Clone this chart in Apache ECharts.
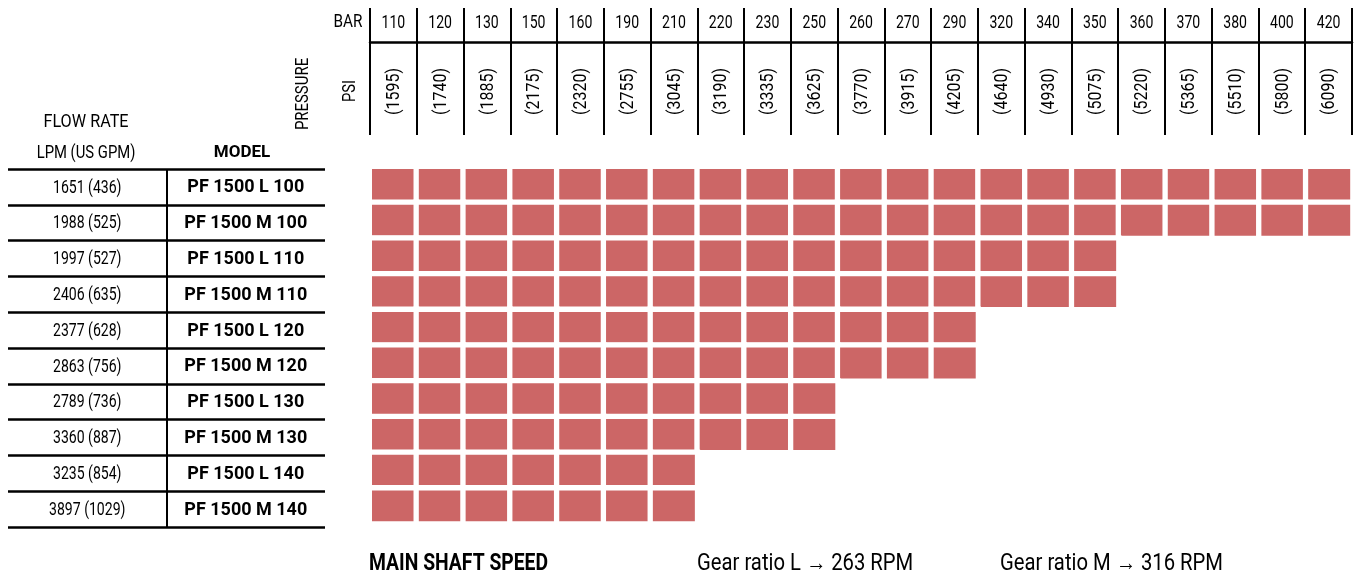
<!DOCTYPE html>
<html>
<head>
<meta charset="utf-8">
<script src="https://cdn.jsdelivr.net/npm/echarts@6/dist/echarts.min.js"></script>
<style>
html, body { margin: 0; padding: 0; background: #fff; }
#chart { width: 1363px; height: 579px; }
</style>
</head>
<body>
<div id="chart"></div>
<script>
// pressure columns
var pressureBar = ['110', '120', '130', '150', '160', '190', '210', '220', '230', '250', '260',
	'270', '290', '320', '340', '350', '360', '370', '380', '400', '420'];
var pressurePsi = ['1595', '1740', '1885', '2175', '2320', '2755', '3045', '3190', '3335', '3625', '3770',
	'3915', '4205', '4640', '4930', '5075', '5220', '5365', '5510', '5800', '6090'];

// model rows
var models = ['PF 1500 L 100', 'PF 1500 M 100', 'PF 1500 L 110', 'PF 1500 M 110', 'PF 1500 L 120',
	'PF 1500 M 120', 'PF 1500 L 130', 'PF 1500 M 130', 'PF 1500 L 140', 'PF 1500 M 140'];
var flowLpm = [1651, 1988, 1997, 2406, 2377, 2863, 2789, 3360, 3235, 3897];
var flowGpm = [436, 525, 527, 635, 628, 756, 736, 887, 854, 1029];
// highest allowed pressure (bar) per model
var maxBar = [420, 420, 350, 350, 290, 290, 250, 250, 210, 210];

// main shaft speed
var gearRatio = ['L', 'M'];
var shaftRpm = [263, 316];

var FONT = "Roboto, 'Noto Sans', sans-serif";
var RED = '#cc6666';
var INK = '#000';

/* cells */
var cells = [];
for (var r = 0; r < models.length; r++) {
	for (var c = 0; c < pressureBar.length; c++) {
		if (+pressureBar[c] <= maxBar[r]) {
			cells.push([pressureBar[c], models[r], 1]);
		}
	}
}

var barPos = [], flowPos = [], modelPos = [];
var barText = [], psiText = [], flowText = [];
for (var i = 0; i < pressureBar.length; i++) {
	barPos.push([pressureBar[i], 0.5]);
	barText.push(pressureBar[i]);
	psiText.push('(' + pressurePsi[i] + ')');
}
for (var j = 0; j < models.length; j++) {
	flowPos.push([0.5, models[j]]);
	modelPos.push([1.5, models[j]]);
	flowText.push(flowLpm[j] + ' (' + flowGpm[j] + ')');
}

/* text drawn at data coords, condensed with scaleX */
function textSeries(pos, texts, xi, yi, st) {
	return {
		type : 'custom',
		xAxisIndex : xi,
		yAxisIndex : yi,
		data : pos,
		silent : true,
		renderItem : function(params, api) {
			var pt = api.coord([ api.value(0), api.value(1) ]);
			return {
				type : 'text',
				x : pt[0] + (st.dx || 0),
				y : pt[1] + (st.dy || 0),
				scaleX : st.scaleX || 1,
				rotation : st.rotation || 0,
				style : {
					text : texts[params.dataIndex],
					font : st.font,
					fill : INK,
					align : 'center',
					verticalAlign : 'middle'
				}
			};
		}
	};
}

function label(text, x, y, font, scaleX, rotation, align) {
	return {
		type : 'text', x : x, y : y, scaleX : scaleX, rotation : rotation || 0,
		style : { text : text, font : font, fill : INK, align : align || 'center', verticalAlign : 'middle' }
	};
}

var blackLine = function(w) {
	return { show : true, lineStyle : { color : INK, width : w, type : 'solid' } };
};

var hidden = { show : false };

var option = {
	animation : false,
	backgroundColor : '#fff',
	grid : [
		// heatmap
		{ left : 369.6, top : 166.7, width : 983, height : 357 },
		// bar header
		{ left : 370, top : 8, width : 982, height : 34 },
		// psi header
		{ left : 370, top : 42, width : 982, height : 93 },
		// table
		{ left : 8, top : 169, width : 317, height : 358 }
	],
	xAxis : [
		{ gridIndex : 0, type : 'category', data : pressureBar, axisLine : hidden, axisTick : hidden, axisLabel : hidden },
		{ gridIndex : 1, type : 'category', data : pressureBar, axisLine : blackLine(2.5), axisTick : hidden,
			axisLabel : hidden, splitLine : blackLine(2) },
		{ gridIndex : 2, type : 'category', data : pressureBar, axisLine : hidden, axisTick : hidden,
			axisLabel : hidden, splitLine : blackLine(2) },
		{ gridIndex : 3, type : 'value', min : 0, max : 2, interval : 1, axisLine : hidden, axisTick : hidden,
			axisLabel : hidden,
			splitLine : { show : true, showMinLine : false, showMaxLine : false, lineStyle : { color : INK, width : 2 } } }
	],
	yAxis : [
		{ gridIndex : 0, type : 'category', data : models, inverse : true, axisLine : hidden, axisTick : hidden, axisLabel : hidden },
		{ gridIndex : 1, type : 'value', min : 0, max : 1, show : false },
		{ gridIndex : 2, type : 'value', min : 0, max : 1, show : false },
		{ gridIndex : 3, type : 'category', data : models, inverse : true, axisLine : hidden, axisTick : hidden,
			axisLabel : hidden, splitLine : blackLine(2.5) }
	],
	visualMap : {
		show : false,
		seriesIndex : 0,
		min : 0,
		max : 1,
		inRange : { color : [ RED, RED ] }
	},
	series : [
		{
			type : 'heatmap',
			xAxisIndex : 0,
			yAxisIndex : 0,
			data : cells,
			silent : true,
			itemStyle : { borderColor : '#fff', borderWidth : 5.3 }
		},
		textSeries(barPos, barText, 1, 1, { font : '19px ' + FONT, scaleX : 0.74, dy : -2 }),
		textSeries(barPos, psiText, 2, 2, { font : '19px ' + FONT, scaleX : 0.84, rotation : Math.PI / 2, dx : 1, dy : 3 }),
		textSeries(flowPos, flowText, 3, 3, { font : '19px ' + FONT, scaleX : 0.74, dy : 1 }),
		textSeries(modelPos, models, 3, 3, { font : 'bold 18px ' + FONT, dy : 1 })
	],
	graphic : [
		label('FLOW RATE', 86, 122, '18px ' + FONT, 0.9),
		label('LPM (US GPM)', 86, 153, '19px ' + FONT, 0.78),
		label('MODEL', 242, 153, 'bold 17px ' + FONT, 1),
		label('PRESSURE', 303, 94, '18px ' + FONT, 0.83, Math.PI / 2),
		label('PSI', 350, 91, '18px ' + FONT, 0.82, Math.PI / 2),
		label('BAR', 348, 22, '18px ' + FONT, 0.85),
		label('MAIN SHAFT SPEED', 369, 564, 'bold 23px ' + FONT, 0.84, 0, 'left'),
		label('Gear ratio ' + gearRatio[0] + ' \u2192 ' + shaftRpm[0] + ' RPM', 697, 564, '23px ' + FONT, 0.88, 0, 'left'),
		label('Gear ratio ' + gearRatio[1] + ' \u2192 ' + shaftRpm[1] + ' RPM', 1000, 564, '23px ' + FONT, 0.88, 0, 'left')
	]
};

var myChart = echarts.init(document.getElementById('chart'));
myChart.setOption(option);
</script>
</body>
</html>
